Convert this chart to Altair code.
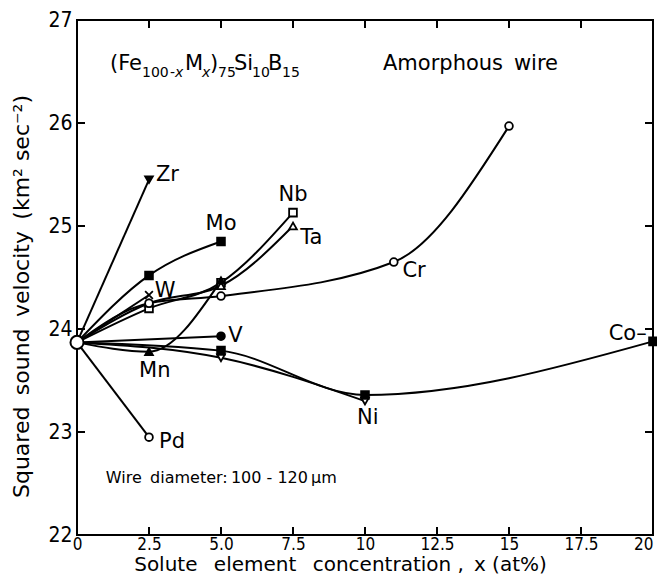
import altair as alt
import pandas as pd

# ---- data ----
series_names = ["Zr", "Mo", "Nb", "Ta", "W", "Cr", "V", "Mn", "Ni", "Co", "Pd"]
origin_x = 0.0
origin_y = 23.87

zr_x = [0, 2.5];                 zr_y = [23.87, 25.45]
mo_x = [0, 2.5, 5];              mo_y = [23.87, 24.52, 24.85]
nb_x = [0, 2.5, 5, 7.5];         nb_y = [23.87, 24.20, 24.45, 25.13]
ta_x = [0, 2.5, 5, 7.5];         ta_y = [23.87, 24.25, 24.42, 25.00]
w_x = [0, 2.5];                  w_y = [23.87, 24.33]
cr_x = [0, 2.5, 5, 11, 15];      cr_y = [23.87, 24.25, 24.32, 24.65, 25.97]
v_x = [0, 5];                    v_y = [23.87, 23.93]
mn_x = [0, 2.5, 5];              mn_y = [23.87, 23.78, 24.47]
ni_x = [0, 5, 10];               ni_y = [23.87, 23.72, 23.30]
co_x = [0, 5, 10, 20];           co_y = [23.87, 23.79, 23.36, 23.88]
pd_x = [0, 2.5];                 pd_y = [23.87, 22.95]

all_x = [zr_x, mo_x, nb_x, ta_x, w_x, cr_x, v_x, mn_x, ni_x, co_x, pd_x]
all_y = [zr_y, mo_y, nb_y, ta_y, w_y, cr_y, v_y, mn_y, ni_y, co_y, pd_y]

marker_shapes = ["triangle-down", "square", "square", "triangle-up", "M-1,-1L1,1M1,-1L-1,1",
                 "circle", "circle", "triangle-up", "triangle-down", "square", "circle"]
marker_fills = ["black", "black", "white", "white", "black",
                "white", "black", "black", "white", "black", "white"]

label_names = ["Zr", "Mo", "Nb", "Ta", "W", "Cr", "V", "Mn", "Ni", "Co\u2013", "Pd"]
label_x = [2.74, 5.0, 7.5, 7.75, 2.7, 11.3, 5.25, 2.7, 10.1, 19.78, 2.85]
label_y = [25.50, 25.02, 25.30, 24.88, 24.37, 24.56, 23.93, 23.59, 23.14, 23.95, 22.90]
label_align = ["left", "center", "center", "left", "left", "left", "left",
               "center", "center", "right", "left"]

x_tick_values = [0, 2.5, 5, 7.5, 10, 12.5, 15, 17.5, 20]
x_tick_labels = ["0", "2.5", "5.0", "7.5", "10", "12.5", "15", "17.5", "20"]
y_tick_values = [22, 23, 24, 25, 26, 27]
inner_x_ticks = [2.5, 5, 7.5, 10, 12.5, 15, 17.5]
inner_y_ticks = [23, 24, 25, 26]

# title pieces: text, level (main / sub), style
title_pieces = ["(Fe", "100", "-", "x", "M", "x", ")", "75", "Si", "10", "B", "15", "Amorphous\u2009 wire"]
title_levels = ["main", "sub", "sub", "sub", "main", "sub", "main", "sub", "main", "sub", "main", "sub", "main"]
title_styles = ["normal", "normal", "normal", "italic", "normal", "italic", "normal", "normal",
                "normal", "normal", "normal", "normal", "normal"]
# layout (pixel starts within the plot)
title_px = [33, 65, 93, 98, 108, 125, 133, 141, 157, 175, 191, 205, 306]

note_text = "Wire\u2009 diameter:\u2009100 - 120\u2009\u03bcm"
note_x, note_y = 1.0, 22.55

# ---- tables ----
rows = []
for name, xs, ys in zip(series_names, all_x, all_y):
    for xv, yv in zip(xs, ys):
        rows.append({"series": name, "x": xv, "y": yv})
lines_df = pd.DataFrame(rows)
points_df = lines_df[lines_df["x"] > 0].reset_index(drop=True)
labels_df = pd.DataFrame({"name": label_names, "x": label_x, "y": label_y, "align": label_align})

W, H = 576, 515
FONT = "DejaVu Sans"
FONT_C = "DejaVu Sans Condensed, DejaVu Sans"

label_expr = ""
for v, t in zip(x_tick_values, x_tick_labels):
    label_expr += f"datum.value == {v} ? '{t}' : "
label_expr += "''"

xscale = alt.Scale(domain=[0, 20], nice=False, zero=False)
yscale = alt.Scale(domain=[22, 27], nice=False, zero=False)

xaxis = alt.Axis(values=x_tick_values, labelExpr=label_expr, domain=False, ticks=False, grid=False,
                 labelFont=FONT_C, labelFontSize=17, labelColor="black", labelPadding=1,
                 labelFlush=False, labelOverlap=False,
                 labelAlign={"condition": {"test": "datum.value == 20", "value": "right"}, "value": "center"},
                 title="Solute\u2002 element\u2002 concentration ,\u2002x (at%)", titleFont=FONT,
                 titleFontSize=20, titleFontWeight="normal", titleColor="black",
                 titleX=263, titleY=29, titleBaseline="middle", titleAlign="center")
yaxis = alt.Axis(values=y_tick_values, format="d", domain=False, ticks=False, grid=False,
                 labelFont=FONT_C, labelFontSize=21, labelColor="black", labelPadding=5,
                 labelFlush=False, labelOverlap=False,
                 title="Squared\u2009 sound\u2009 velocity\u2009 (km\u00b2 sec\u207b\u00b2)", titleFont=FONT,
                 titleFontSize=22, titleFontWeight="normal", titleColor="black",
                 titleX=-56, titleY=276, titleBaseline="middle", titleAlign="center", titleAngle=-90)

lines = alt.Chart(lines_df).mark_line(color="black", strokeWidth=2, interpolate="monotone").encode(
    x=alt.X("x:Q", scale=xscale, axis=xaxis),
    y=alt.Y("y:Q", scale=yscale, axis=yaxis),
    detail="series:N",
    order="x:Q",
)

points = alt.Chart(points_df).mark_point(stroke="black", strokeWidth=1.8, opacity=1, fillOpacity=1, size=60).encode(
    x="x:Q", y="y:Q",
    shape=alt.Shape("series:N", scale=alt.Scale(domain=series_names, range=marker_shapes), legend=None),
    fill=alt.Fill("series:N", scale=alt.Scale(domain=series_names, range=marker_fills), legend=None),
)

origin = alt.Chart(pd.DataFrame({"x": [origin_x], "y": [origin_y]})).mark_point(
    shape="circle", size=170, stroke="black", strokeWidth=2, fill="white", fillOpacity=1, opacity=1
).encode(x="x:Q", y="y:Q")

text_layers = []
for al in ["left", "center", "right"]:
    text_layers.append(
        alt.Chart(labels_df).transform_filter(f"datum.align == '{al}'").mark_text(
            align=al, baseline="middle", font=FONT, fontSize=21, color="black"
        ).encode(x="x:Q", y="y:Q", text="name:N")
    )

# title made of pieces (main size / subscript size)
title_layers = []
for txt, lvl, sty, px in zip(title_pieces, title_levels, title_styles, title_px):
    size = 21 if lvl == "main" else 14
    base_y = 50 if lvl == "main" else 57
    title_layers.append(
        alt.Chart(pd.DataFrame({"t": [txt]})).mark_text(
            align="left", baseline="alphabetic", font=FONT, fontSize=size, fontStyle=sty, color="black"
        ).encode(x=alt.value(px), y=alt.value(base_y), text="t:N")
    )

note_layer = alt.Chart(pd.DataFrame({"x": [note_x], "y": [note_y], "t": [note_text]})).mark_text(
    align="left", baseline="middle", font=FONT, fontSize=16, color="black"
).encode(x="x:Q", y="y:Q", text="t:N")

xt_df = pd.DataFrame({"x": inner_x_ticks})
yt_df = pd.DataFrame({"y": inner_y_ticks})
bottom_ticks = alt.Chart(xt_df).mark_rule(color="black", strokeWidth=2).encode(
    x="x:Q", y=alt.value(H), y2=alt.value(H - 8))
top_ticks = alt.Chart(xt_df).mark_rule(color="black", strokeWidth=2).encode(
    x="x:Q", y=alt.value(0), y2=alt.value(8))
left_ticks = alt.Chart(yt_df).mark_rule(color="black", strokeWidth=2).encode(
    y="y:Q", x=alt.value(0), x2=alt.value(8))
right_ticks = alt.Chart(yt_df).mark_rule(color="black", strokeWidth=2).encode(
    y="y:Q", x=alt.value(W), x2=alt.value(W - 8))

chart = alt.layer(
    lines, bottom_ticks, top_ticks, left_ticks, right_ticks, origin, points,
    *text_layers, *title_layers, note_layer
).properties(
    width=W, height=H,
    autosize=alt.AutoSizeParams(type="none"),
    padding={"left": 69, "top": 12, "right": 4, "bottom": 39},
    background="white",
).configure_view(stroke="black", strokeWidth=2)

chart.save("out.html", embed_options={"renderer": "svg", "actions": False})
